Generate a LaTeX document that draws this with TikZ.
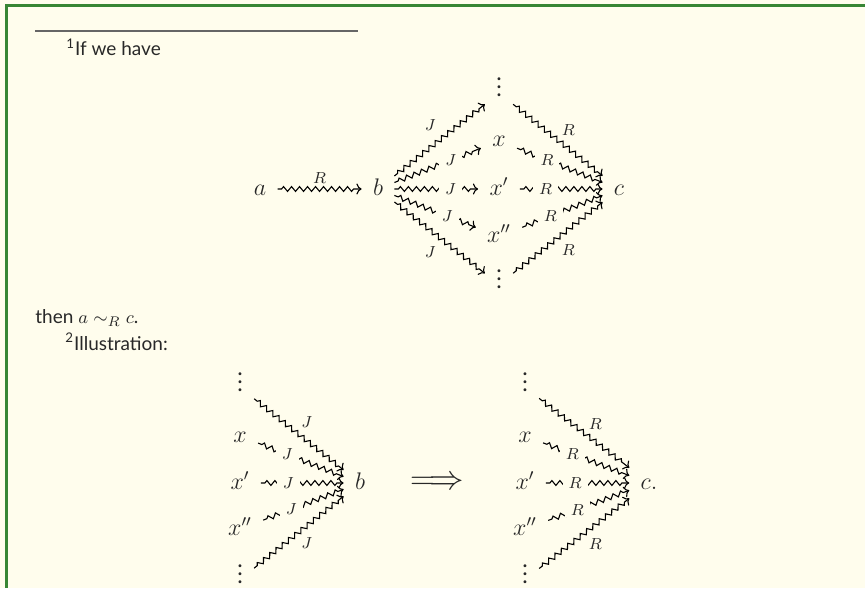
\documentclass[tikz,border=0pt]{standalone}
\usepackage{fontspec}
\setmainfont{Lato}
\usetikzlibrary{decorations.pathmorphing,arrows.meta}
\definecolor{bg}{RGB}{255,253,237}
\definecolor{framegreen}{RGB}{56,134,52}
\definecolor{txt}{RGB}{40,40,40}
\begin{document}
\begin{tikzpicture}[x=0.5pt,y=-0.5pt,
  sq/.style={decorate, decoration={zigzag, segment length=4pt, amplitude=1.2pt, pre=lineto, pre length=2pt, post=lineto, post length=3pt}, line width=0.55pt, -{To[length=2.6pt,width=5.5pt]}},
  mn/.style={font=\fontsize{11.5}{14}\selectfont, text=txt, inner xsep=5.5pt, inner ysep=2pt, text height=9pt, text depth=3pt},
  vd/.style={mn, text height=10pt, text depth=6.4pt},
  lab/.style={font=\fontsize{8.5}{10}\selectfont, text=txt, inner sep=1pt},
  desc/.style={lab, fill=bg, inner xsep=3pt, inner ysep=1pt},
  para/.style={font=\fontsize{9.5}{12}\selectfont, text=txt, anchor=base west, inner sep=0pt}]
% background and frame
\fill[bg] (0,0) rectangle (865,588);
\fill[framegreen] (5,4) rectangle (865,7);
\fill[framegreen] (5,4) rectangle (8,588);
\path[use as bounding box] (0,0) rectangle (865,588);
% footnote rule and texts
\draw[line width=0.6pt, color=black!60] (35,31) -- (358,31);
\node[para] (t1) at (66,56) {\textsuperscript{1}If we have};
\node[para] (t2) at (35,323) {then $a \sim_R c$.};
\node[para] (t3) at (65,350) {\textsuperscript{2}Illustration:};
% top diagram
\node[mn] (a) at (260,189) {$a$};
\node[mn] (b) at (378,189) {$b$};
\node[mn] (c) at (619,189) {$c$};
\node[vd] (vt) at (499,93) {$\vdots$};
\node[mn] (x1) at (499,141) {$x$};
\node[mn] (x2) at (499,189) {$x'$};
\node[mn] (x3) at (499,236.5) {$x''$};
\node[vd] (vb) at (499,284.5) {$\vdots$};
\draw[sq] (a) -- node[lab, above=1.5pt] {$R$} (b);
\draw[sq] (b) -- node[lab, shift={(-9.5,-15.5)}] {$J$} (vt);
\draw[sq] (b) -- node[desc, pos=.65] {$J$} (x1);
\draw[sq] (b) -- node[desc, pos=.67] {$J$} (x2);
\draw[sq] (b) -- node[desc, pos=.65] {$J$} (x3);
\draw[sq] (b) -- node[lab, shift={(-9.5,14.5)}] {$J$} (vb);
\draw[sq] (vt) -- node[lab, shift={(10.5,-10)}] {$R$} (c);
\draw[sq] (x1) -- node[desc, pos=.35] {$R$} (c);
\draw[sq] (x2) -- node[desc, pos=.31] {$R$} (c);
\draw[sq] (x3) -- node[desc, pos=.35] {$R$} (c);
\draw[sq] (vb) -- node[lab, shift={(10.5,12)}] {$R$} (c);
% bottom left diagram
\node[vd] (l0) at (240,387.5) {$\vdots$};
\node[mn] (l1) at (240,436) {$x$};
\node[mn] (l2) at (240,483) {$x'$};
\node[mn] (l3) at (240,529) {$x''$};
\node[vd] (l4) at (240,579.5) {$\vdots$};
\node[mn] (lb) at (360,483) {$b$};
\draw[sq] (l0) -- node[lab, shift={(8,-12)}] {$J$} (lb);
\draw[sq] (l1) -- node[desc, pos=.34] {$J$} (lb);
\draw[sq] (l2) -- node[desc, pos=.33] {$J$} (lb);
\draw[sq] (l3) -- node[desc, pos=.35] {$J$} (lb);
\draw[sq] (l4) -- node[lab, shift={(8,11)}] {$J$} (lb);
% implication
\node[font=\fontsize{19}{22}\selectfont, text=txt] (imp) at (437,483) {$\Longrightarrow$};
% bottom right diagram
\node[vd] (r0) at (525,387.5) {$\vdots$};
\node[mn] (r1) at (525,436) {$x$};
\node[mn] (r2) at (525,483) {$x'$};
\node[mn] (r3) at (525,529) {$x''$};
\node[vd] (r4) at (525,579.5) {$\vdots$};
\node[mn] (rc) at (649,483) {$c.$};
\draw[sq] (r0) -- node[lab, shift={(11,-9)}] {$R$} (rc);
\draw[sq] (r1) -- node[desc, pos=.34] {$R$} (rc);
\draw[sq] (r2) -- node[desc, pos=.35] {$R$} (rc);
\draw[sq] (r3) -- node[desc, pos=.36] {$R$} (rc);
\draw[sq] (r4) -- node[lab, shift={(11,11)}] {$R$} (rc);
\end{tikzpicture}
\end{document}
